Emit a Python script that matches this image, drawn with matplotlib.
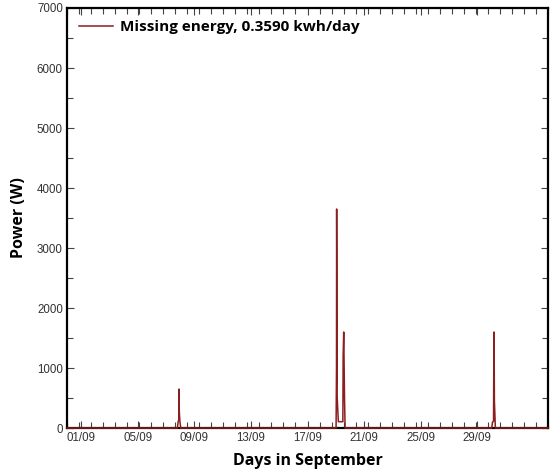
import matplotlib
matplotlib.use("Agg")
import matplotlib.pyplot as plt
from matplotlib.ticker import MultipleLocator, FixedLocator

# Time axis in days (label "dd/09" sits at day dd)
days = [0.0, 7.80, 7.86, 7.90, 7.92, 7.94, 7.98, 8.04,
        19.02, 19.05, 19.06, 19.07, 19.09, 19.18, 19.50, 19.52, 19.56, 19.62, 19.66,
        30.02, 30.08, 30.15, 30.17, 30.19, 30.21, 30.28, 34.0]
power = [0, 0, 110, 130, 650, 260, 110, 0,
         0, 1000, 3650, 2900, 550, 105, 105, 1200, 1600, 450, 0,
         0, 100, 110, 1200, 1600, 460, 0, 0]

tick_days = [1, 5, 9, 13, 17, 21, 25, 29]
tick_labels = ["01/09", "05/09", "09/09", "13/09", "17/09", "21/09", "25/09", "29/09"]
y_ticks = [0, 1000, 2000, 3000, 4000, 5000, 6000, 7000]

legend_label = "Missing energy, 0.3590 kwh/day"
line_color = "#8b1e1e"

fig = plt.figure(figsize=(5.52, 4.73), dpi=100)
ax = fig.add_axes([67 / 552, 1 - 428 / 473, 481 / 552, 420 / 473])

ax.plot(days, power, color=line_color, lw=1.1, clip_on=False, zorder=5,
        label=legend_label)

ax.set_xlim(0, 34)
ax.set_ylim(0, 7000)

ax.xaxis.set_major_locator(FixedLocator(tick_days))
ax.set_xticklabels(tick_labels)
ax.xaxis.set_minor_locator(MultipleLocator(34 / 40))
ax.set_yticks(y_ticks)
ax.yaxis.set_minor_locator(MultipleLocator(500))

for lab in ax.get_xticklabels() + ax.get_yticklabels():
    lab.set_fontfamily("Liberation Sans")
    lab.set_fontsize(8.3)
    lab.set_color("#333333")

ax.tick_params(which="both", direction="in", top=True, right=True, width=0.8,
               color="#444444")
ax.tick_params(which="major", length=5, pad=3)
ax.tick_params(which="minor", length=4)

for sp in ax.spines.values():
    sp.set_linewidth(1.6)
    sp.set_color("black")

label_font = dict(family="Open Sans", weight="bold", size=11.5)
ax.set_xlabel("Days in September", fontdict=label_font, labelpad=6)
ax.set_ylabel("Power (W)", fontdict=label_font, labelpad=7)

leg = ax.legend(loc="upper left", frameon=False, handlelength=2.2,
                borderaxespad=0.4, handletextpad=0.45,
                prop=dict(family="Open Sans", weight="bold", size=11))

fig.savefig("out.png", dpi=100)
